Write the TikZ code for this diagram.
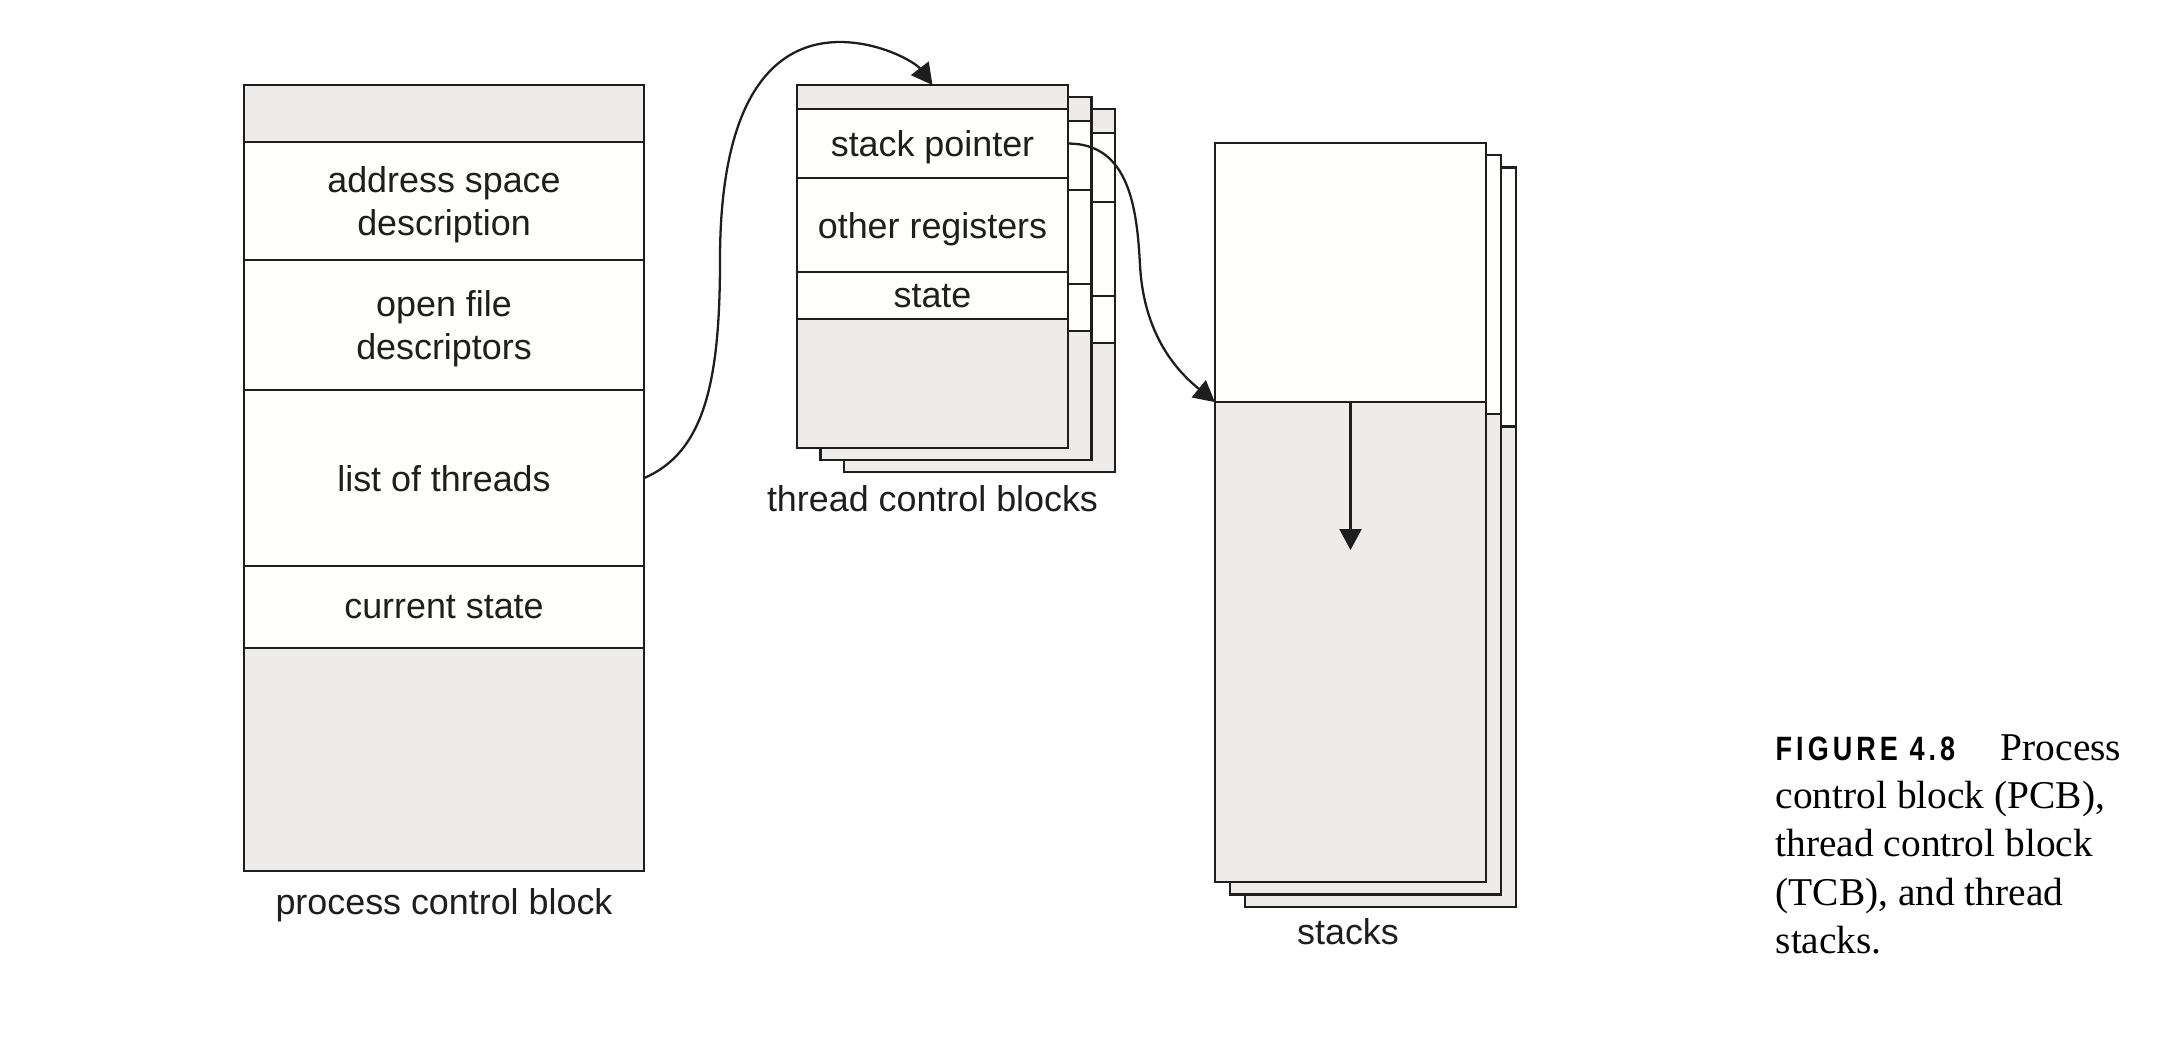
\documentclass[tikz,border=0pt]{standalone}
\usepackage{fontspec}
\setmainfont{Liberation Serif}
\newfontfamily\lblfont{Liberation Sans}
\newfontfamily\figfont{Liberation Sans}[FakeStretch=0.8,LetterSpace=12]
\usetikzlibrary{arrows.meta}
\definecolor{gfill}{RGB}{237,236,234}
\definecolor{wfill}{RGB}{254,254,252}
\definecolor{ink}{RGB}{30,30,30}
\tikzset{
  cellbox/.style={draw=ink, line width=0.65pt, inner sep=0pt, outer sep=0pt,
    font=\lblfont\fontsize{10.2}{12}\selectfont, align=center, text=ink, text depth=0pt},
  greycell/.style={cellbox, fill=gfill},
  whitecell/.style={cellbox, fill=wfill},
  lbl/.style={font=\lblfont\fontsize{10.2}{12}\selectfont, text=ink, inner sep=0pt},
  conn/.style={draw=ink, line width=0.65pt, -{Triangle[width=0.22cm,length=0.21cm]}}
}
\begin{document}
\begin{tikzpicture}[x=0.01cm,y=-0.01cm]
\useasboundingbox (0,0) rectangle (2184,1056);

% ---------- process control block ----------
\node[greycell, minimum width=4cm, minimum height=0.57cm] (p0) at (444,113.5) {};
\node[whitecell, minimum width=4cm, minimum height=1.18cm] (p1) at (444,201) {address space\\description};
\node[whitecell, minimum width=4cm, minimum height=1.30cm] (p2) at (444,325) {open file\\descriptors};
\node[whitecell, minimum width=4cm, minimum height=1.76cm] (p3) at (444,478) {list of threads};
\node[whitecell, minimum width=4cm, minimum height=0.82cm] (p4) at (444,607) {current state};
\node[greycell, minimum width=4cm, minimum height=2.23cm] (p5) at (444,759.5) {};
\node[lbl] (plbl) at (444,905) {process control block};

% ---------- thread control blocks (back layers) ----------
\foreach \k/\dx/\dy in {2/47/24,1/23.5/12}{
  \begin{scope}[shift={(\dx,\dy)}]
    \node[greycell, minimum width=2.71cm, minimum height=0.24cm] (tb\k a) at (932.5,97) {};
    \node[whitecell, minimum width=2.71cm, minimum height=0.69cm] (tb\k b) at (932.5,143.5) {};
    \node[whitecell, minimum width=2.71cm, minimum height=0.94cm] (tb\k c) at (932.5,225) {};
    \node[whitecell, minimum width=2.71cm, minimum height=0.47cm] (tb\k d) at (932.5,295.5) {};
    \node[greycell, minimum width=2.71cm, minimum height=1.29cm] (tb\k e) at (932.5,383.5) {};
  \end{scope}
}
% front layer
\node[greycell, minimum width=2.71cm, minimum height=0.24cm] (t0) at (932.5,97) {};
\node[whitecell, minimum width=2.71cm, minimum height=0.69cm] (t1) at (932.5,143.5) {stack pointer};
\node[whitecell, minimum width=2.71cm, minimum height=0.94cm] (t2) at (932.5,225) {other registers};
\node[whitecell, minimum width=2.71cm, minimum height=0.47cm] (t3) at (932.5,295.5) {state};
\node[greycell, minimum width=2.71cm, minimum height=1.29cm] (t4) at (932.5,383.5) {};
\node[lbl] (tlbl) at (932.5,499) {thread control blocks};

% ---------- stacks ----------
\foreach \k/\dx/\dy in {2/30/24.6,1/15/12.3}{
  \begin{scope}[shift={(\dx,\dy)}]
    \node[whitecell, minimum width=2.71cm, minimum height=2.59cm] (sb\k a) at (1350.5,272.5) {};
    \node[greycell, minimum width=2.71cm, minimum height=4.80cm] (sb\k b) at (1350.5,642) {};
  \end{scope}
}
\node[whitecell, minimum width=2.71cm, minimum height=2.59cm] (s0) at (1350.5,272.5) {};
\node[greycell, minimum width=2.71cm, minimum height=4.80cm] (s1) at (1350.5,642) {};
\node[lbl] (slbl) at (1348,932) {stacks};
\coordinate (sarr) at (1350.5,550);
\draw[conn] (s1.north) -- (sarr);

% ---------- connectors ----------
\draw[conn] (p3.east) .. controls (705,452) and (720,380) .. (720,260)
  .. controls (720,100) and (772,42) .. (840,42)
  .. controls (880,42) and (915,62) .. (t0.north);
\draw[conn] (t1.east) .. controls (1130,143.5) and (1137,210) .. (1140,265)
  .. controls (1144,340) and (1182,375) .. (s0.south west);

% ---------- caption ----------
\node[anchor=north west, inner sep=0pt, align=left, text=black,
  font=\fontsize{11.2}{13.7}\selectfont] (cap) at (1775,734)
  {{\figfont\bfseries\fontsize{9.6}{13.7}\selectfont FIGURE 4.8}\hspace{13pt}Process\\
   control block (PCB),\\
   thread control block\\
   (TCB), and thread\\
   stacks.};
\end{tikzpicture}
\end{document}
